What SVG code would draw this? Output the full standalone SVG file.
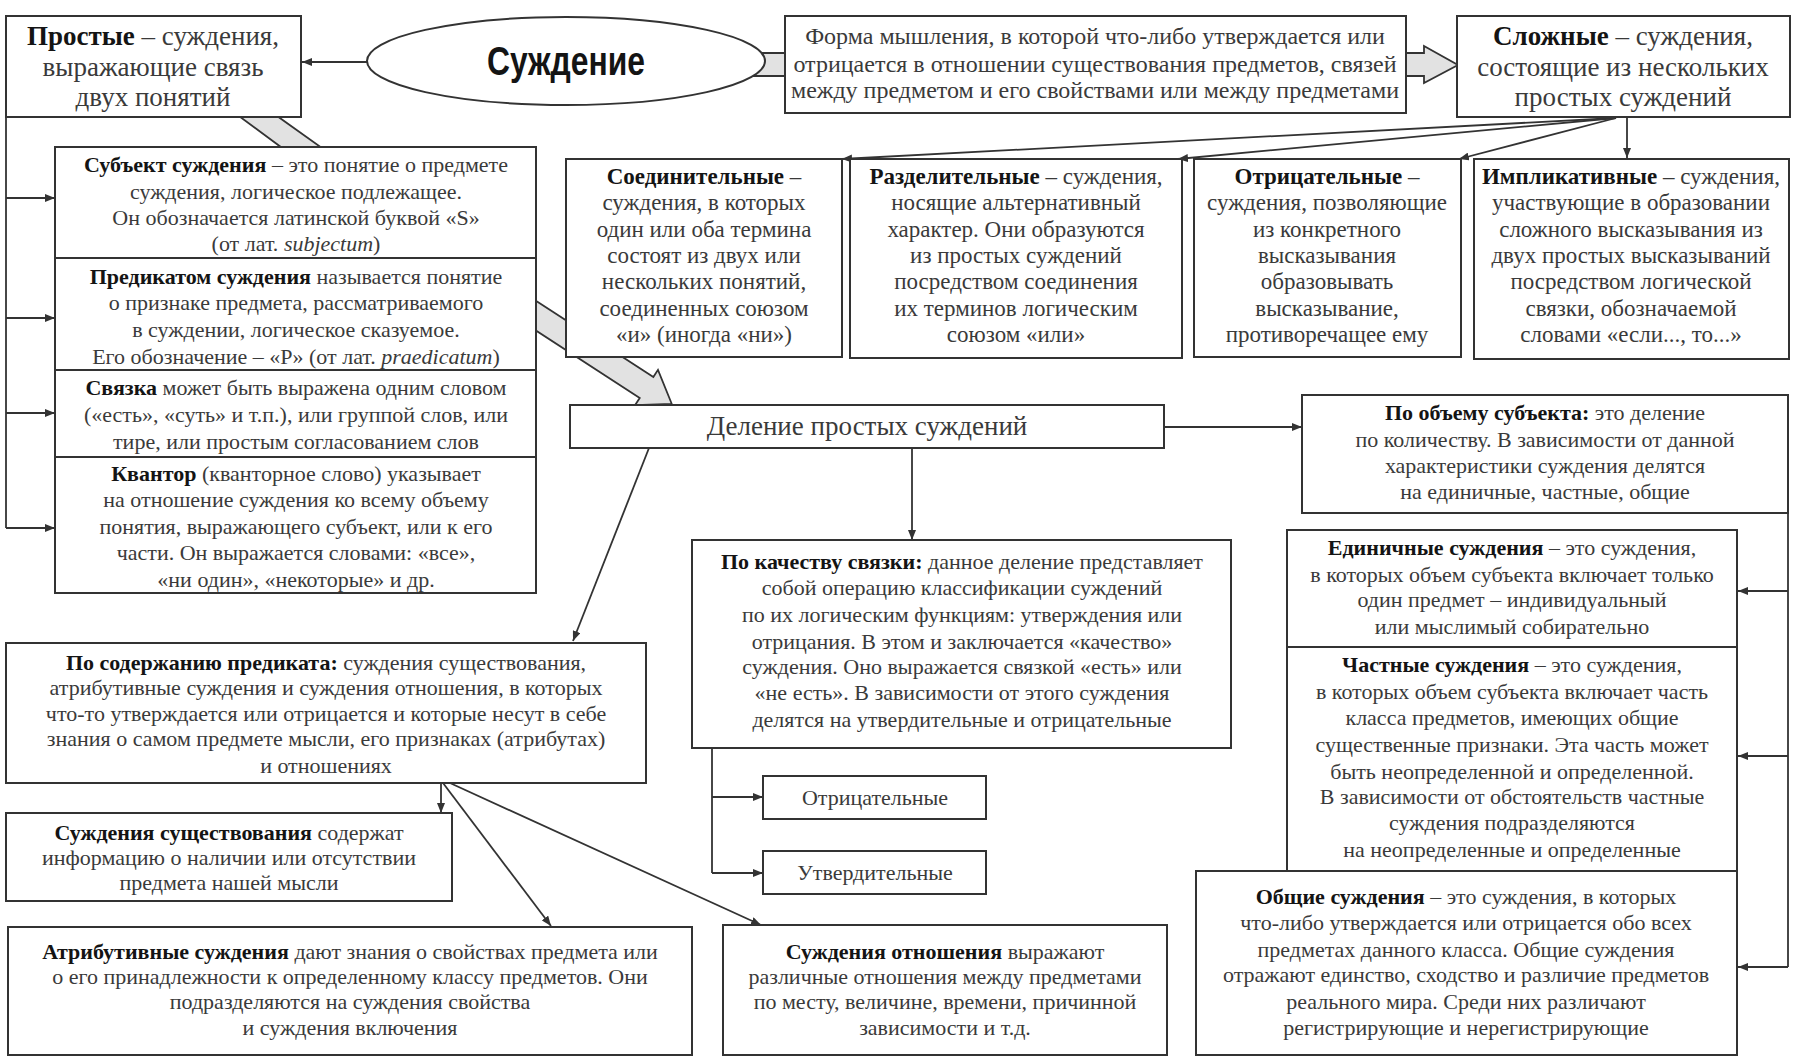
<svg xmlns="http://www.w3.org/2000/svg" width="1804" height="1062" viewBox="0 0 1804 1062">
<style>
.box{fill:#fff;stroke:#333;stroke-width:2}
.t{font-family:"Liberation Serif",serif;fill:#3a3a3a;text-anchor:middle}
.f27{font-size:27px}
.f24{font-size:24px}
.f23{font-size:23px}
.f22{font-size:22px}
.b{font-weight:bold;fill:#141414}
.i{font-style:italic}
.conn{stroke:#333;stroke-width:1.8;fill:none}
.arr{marker-end:url(#ah)}
.band{fill:#e2e2e2;stroke:#333;stroke-width:1.8}
.title{font-family:"Liberation Sans",sans-serif;font-weight:bold;font-size:40px;fill:#141414;text-anchor:middle}
</style>
<defs>
<marker id="ah" viewBox="0 0 10 8" refX="10" refY="4" markerWidth="10" markerHeight="8" orient="auto" markerUnits="userSpaceOnUse"><path d="M0,0 L10,4 L0,8 z" fill="#333"/></marker>
</defs>
<rect width="1804" height="1062" fill="#fff"/>
<g id="connectors">
<rect x="740" y="53" width="52" height="23" fill="#e2e2e2" stroke="none"/>
<line class="conn" x1="740" y1="53" x2="792" y2="53"/>
<line class="conn" x1="740" y1="76" x2="792" y2="76"/>
<polygon class="band" points="1395,53 1424,53 1424,46 1458,65 1424,83 1424,76 1395,76"/>
<polygon class="band" points="232,111 270,111 329,153 289,153"/>
<polygon class="band" transform="translate(535,315) rotate(33)" points="-25,-12.5 133,-12.5 133,-21 163,0 133,21 133,12.5 -25,12.5"/>
<line class="conn arr" x1="367" y1="62" x2="302" y2="62"/>
<line class="conn arr" x1="1616" y1="118" x2="842" y2="159"/>
<line class="conn arr" x1="1616" y1="118" x2="1178" y2="159"/>
<line class="conn arr" x1="1616" y1="118" x2="1459" y2="159"/>
<line class="conn arr" x1="1627" y1="118" x2="1627" y2="158"/>
<polyline class="conn" points="6,117 6,528"/>
<line class="conn arr" x1="6" y1="198" x2="55" y2="198"/>
<line class="conn arr" x1="6" y1="318" x2="55" y2="318"/>
<line class="conn arr" x1="6" y1="413" x2="55" y2="413"/>
<line class="conn arr" x1="6" y1="528" x2="55" y2="528"/>
<line class="conn arr" x1="1164" y1="427" x2="1302" y2="427"/>
<line class="conn arr" x1="912" y1="448" x2="912" y2="540"/>
<line class="conn arr" x1="649" y1="448" x2="573" y2="641"/>
<polyline class="conn" points="1788,513 1788,967"/>
<line class="conn arr" x1="1788" y1="591" x2="1738" y2="591"/>
<line class="conn arr" x1="1788" y1="756" x2="1738" y2="756"/>
<line class="conn arr" x1="1788" y1="967" x2="1738" y2="967"/>
<polyline class="conn" points="712,748 712,873"/>
<line class="conn arr" x1="712" y1="797" x2="763" y2="797"/>
<line class="conn arr" x1="712" y1="873" x2="763" y2="873"/>
<line class="conn arr" x1="441" y1="783" x2="441" y2="813"/>
<line class="conn arr" x1="443" y1="783" x2="551" y2="926"/>
<line class="conn arr" x1="450" y1="783" x2="761" y2="925"/>
</g>
<g id="sujdenie">
<ellipse cx="566" cy="61" rx="199" ry="44" fill="#fff" stroke="#333" stroke-width="2"/>
<text class="title" x="566" y="75" textLength="158" lengthAdjust="spacingAndGlyphs">Суждение</text>
</g>
<g id="prostye">
<rect class="box" x="6" y="16" width="295" height="101"/>
<text class="t f27" x="153"><tspan x="153" y="45"><tspan class="b">Простые</tspan> – суждения,</tspan><tspan x="153" y="76">выражающие связь</tspan><tspan x="153" y="106">двух понятий</tspan></text>
</g>
<g id="forma">
<rect class="box" x="785" y="16" width="621" height="97"/>
<text class="t f24"><tspan x="1095" y="44">Форма мышления, в которой что-либо утверждается или</tspan><tspan x="1095" y="72">отрицается в отношении существования предметов, связей</tspan><tspan x="1095" y="98">между предметом и его свойствами или между предметами</tspan></text>
</g>
<g id="slozhnye">
<rect class="box" x="1457" y="16" width="333" height="101"/>
<text class="t f27"><tspan x="1623" y="45"><tspan class="b">Сложные</tspan> – суждения,</tspan><tspan x="1623" y="76">состоящие из нескольких</tspan><tspan x="1623" y="106">простых суждений</tspan></text>
</g>
<g id="soedinitelnye">
<rect class="box" x="566" y="159" width="276" height="198"/>
<text class="t f23"><tspan x="704" y="184" class="b">Соединительные</tspan><tspan> –</tspan><tspan x="704" y="210">суждения, в которых</tspan><tspan x="704" y="237">один или оба термина</tspan><tspan x="704" y="263">состоят из двух или</tspan><tspan x="704" y="289">нескольких понятий,</tspan><tspan x="704" y="316">соединенных союзом</tspan><tspan x="704" y="342">«и» (иногда «ни»)</tspan></text>
</g>
<g id="razdelitelnye">
<rect class="box" x="850" y="159" width="332" height="199"/>
<text class="t f23"><tspan x="1016" y="184"><tspan class="b">Разделительные</tspan> – суждения,</tspan><tspan x="1016" y="210">носящие альтернативный</tspan><tspan x="1016" y="237">характер. Они образуются</tspan><tspan x="1016" y="263">из простых суждений</tspan><tspan x="1016" y="289">посредством соединения</tspan><tspan x="1016" y="316">их терминов логическим</tspan><tspan x="1016" y="342">союзом «или»</tspan></text>
</g>
<g id="otricatelnye-slozh">
<rect class="box" x="1194" y="159" width="267" height="198"/>
<text class="t f23"><tspan x="1327" y="184"><tspan class="b">Отрицательные</tspan> –</tspan><tspan x="1327" y="210">суждения, позволяющие</tspan><tspan x="1327" y="237">из конкретного</tspan><tspan x="1327" y="263">высказывания</tspan><tspan x="1327" y="289">образовывать</tspan><tspan x="1327" y="316">высказывание,</tspan><tspan x="1327" y="342">противоречащее ему</tspan></text>
</g>
<g id="implikativnye">
<rect class="box" x="1474" y="159" width="315" height="200"/>
<text class="t f23"><tspan x="1631" y="184"><tspan class="b">Импликативные</tspan> – суждения,</tspan><tspan x="1631" y="210">участвующие в образовании</tspan><tspan x="1631" y="237">сложного высказывания из</tspan><tspan x="1631" y="263">двух простых высказываний</tspan><tspan x="1631" y="289">посредством логической</tspan><tspan x="1631" y="316">связки, обозначаемой</tspan><tspan x="1631" y="342">словами «если..., то...»</tspan></text>
</g>
<g id="subekt">
<rect class="box" x="55" y="147" width="481" height="111"/>
<text class="t f22"><tspan x="296" y="172"><tspan class="b">Субъект суждения</tspan> – это понятие о предмете</tspan><tspan x="296" y="199">суждения, логическое подлежащее.</tspan><tspan x="296" y="225">Он обозначается латинской буквой «S»</tspan><tspan x="296" y="251">(от лат. <tspan class="i">subjectum</tspan>)</tspan></text>
</g>
<g id="predikat">
<rect class="box" x="55" y="258" width="481" height="112"/>
<text class="t f22"><tspan x="296" y="284"><tspan class="b">Предикатом суждения</tspan> называется понятие</tspan><tspan x="296" y="310">о признаке предмета, рассматриваемого</tspan><tspan x="296" y="337">в суждении, логическое сказуемое.</tspan><tspan x="296" y="364">Его обозначение – «P» (от лат. <tspan class="i">praedicatum</tspan>)</tspan></text>
</g>
<g id="svyazka">
<rect class="box" x="55" y="370" width="481" height="87"/>
<text class="t f22"><tspan x="296" y="395"><tspan class="b">Связка</tspan> может быть выражена одним словом</tspan><tspan x="296" y="422">(«есть», «суть» и т.п.), или группой слов, или</tspan><tspan x="296" y="449">тире, или простым согласованием слов</tspan></text>
</g>
<g id="kvantor">
<rect class="box" x="55" y="457" width="481" height="136"/>
<text class="t f22"><tspan x="296" y="481"><tspan class="b">Квантор</tspan> (кванторное слово) указывает</tspan><tspan x="296" y="507">на отношение суждения ко всему объему</tspan><tspan x="296" y="534">понятия, выражающего субъект, или к его</tspan><tspan x="296" y="560">части. Он выражается словами: «все»,</tspan><tspan x="296" y="587">«ни один», «некоторые» и др.</tspan></text>
</g>
<g id="delenie">
<rect class="box" x="570" y="405" width="594" height="43"/>
<text class="t f27" x="867" y="435">Деление простых суждений</text>
</g>
<g id="po-obemu">
<rect class="box" x="1302" y="395" width="486" height="118"/>
<text class="t f22"><tspan x="1545" y="420"><tspan class="b">По объему субъекта:</tspan> это деление</tspan><tspan x="1545" y="447">по количеству. В зависимости от данной</tspan><tspan x="1545" y="473">характеристики суждения делятся</tspan><tspan x="1545" y="499">на единичные, частные, общие</tspan></text>
</g>
<g id="edinichnye">
<rect class="box" x="1287" y="530" width="450" height="117"/>
<text class="t f22"><tspan x="1512" y="555"><tspan class="b">Единичные суждения</tspan> – это суждения,</tspan><tspan x="1512" y="582">в которых объем субъекта включает только</tspan><tspan x="1512" y="607">один предмет – индивидуальный</tspan><tspan x="1512" y="634">или мыслимый собирательно</tspan></text>
</g>
<g id="chastnye">
<rect class="box" x="1287" y="647" width="450" height="224"/>
<text class="t f22"><tspan x="1512" y="672"><tspan class="b">Частные суждения</tspan> – это суждения,</tspan><tspan x="1512" y="699">в которых объем субъекта включает часть</tspan><tspan x="1512" y="725">класса предметов, имеющих общие</tspan><tspan x="1512" y="752">существенные признаки. Эта часть может</tspan><tspan x="1512" y="779">быть неопределенной и определенной.</tspan><tspan x="1512" y="804">В зависимости от обстоятельств частные</tspan><tspan x="1512" y="830">суждения подразделяются</tspan><tspan x="1512" y="857">на неопределенные и определенные</tspan></text>
</g>
<g id="obshchie">
<rect class="box" x="1196" y="871" width="541" height="184"/>
<text class="t f22"><tspan x="1466" y="904"><tspan class="b">Общие суждения</tspan> – это суждения, в которых</tspan><tspan x="1466" y="930">что-либо утверждается или отрицается обо всех</tspan><tspan x="1466" y="957">предметах данного класса. Общие суждения</tspan><tspan x="1466" y="982">отражают единство, сходство и различие предметов</tspan><tspan x="1466" y="1009">реального мира. Среди них различают</tspan><tspan x="1466" y="1035">регистрирующие и нерегистрирующие</tspan></text>
</g>
<g id="po-kachestvu">
<rect class="box" x="692" y="540" width="539" height="208"/>
<text class="t f22"><tspan x="962" y="569"><tspan class="b">По качеству связки:</tspan> данное деление представляет</tspan><tspan x="962" y="595">собой операцию классификации суждений</tspan><tspan x="962" y="622">по их логическим функциям: утверждения или</tspan><tspan x="962" y="649">отрицания. В этом и заключается «качество»</tspan><tspan x="962" y="674">суждения. Оно выражается связкой «есть» или</tspan><tspan x="962" y="700">«не есть». В зависимости от этого суждения</tspan><tspan x="962" y="727">делятся на утвердительные и отрицательные</tspan></text>
</g>
<g id="otricatelnye">
<rect class="box" x="763" y="776" width="223" height="43"/>
<text class="t f22" x="875" y="805">Отрицательные</text>
</g>
<g id="utverditelnye">
<rect class="box" x="763" y="851" width="223" height="43"/>
<text class="t f22" x="875" y="880">Утвердительные</text>
</g>
<g id="po-soderzhaniyu">
<rect class="box" x="6" y="643" width="640" height="140"/>
<text class="t f22"><tspan x="326" y="670"><tspan class="b">По содержанию предиката:</tspan> суждения существования,</tspan><tspan x="326" y="695">атрибутивные суждения и суждения отношения, в которых</tspan><tspan x="326" y="721">что-то утверждается или отрицается и которые несут в себе</tspan><tspan x="326" y="746">знания о самом предмете мысли, его признаках (атрибутах)</tspan><tspan x="326" y="773">и отношениях</tspan></text>
</g>
<g id="sushchestvovaniya">
<rect class="box" x="6" y="813" width="446" height="88"/>
<text class="t f22"><tspan x="229" y="840"><tspan class="b">Суждения существования</tspan> содержат</tspan><tspan x="229" y="865">информацию о наличии или отсутствии</tspan><tspan x="229" y="890">предмета нашей мысли</tspan></text>
</g>
<g id="atributivnye">
<rect class="box" x="8" y="927" width="684" height="128"/>
<text class="t f22"><tspan x="350" y="959"><tspan class="b">Атрибутивные суждения</tspan> дают знания о свойствах предмета или</tspan><tspan x="350" y="984">о его принадлежности к определенному классу предметов. Они</tspan><tspan x="350" y="1009">подразделяются на суждения свойства</tspan><tspan x="350" y="1035">и суждения включения</tspan></text>
</g>
<g id="otnosheniya">
<rect class="box" x="723" y="925" width="444" height="130"/>
<text class="t f22"><tspan x="945" y="959"><tspan class="b">Суждения отношения</tspan> выражают</tspan><tspan x="945" y="984">различные отношения между предметами</tspan><tspan x="945" y="1009">по месту, величине, времени, причинной</tspan><tspan x="945" y="1035">зависимости и т.д.</tspan></text>
</g>
</svg>
